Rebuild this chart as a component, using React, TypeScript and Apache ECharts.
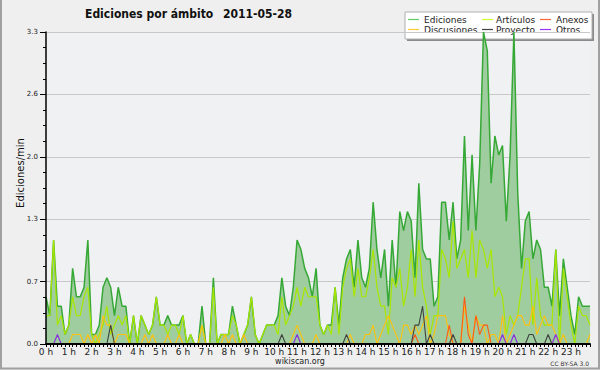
import React, { useEffect, useRef } from "react";
import * as echarts from "echarts";

const hourLabels = [
  "0 h", "1 h", "2 h", "3 h", "4 h", "5 h", "6 h", "7 h", "8 h", "9 h", "10 h", "11 h",
  "12 h", "13 h", "14 h", "15 h", "16 h", "17 h", "18 h", "19 h", "20 h", "21 h", "22 h", "23 h",
];

// 10-minute bins, edits per minute
const ediciones = [
  0.5, 0.3, 1.1, 0.4, 0.4, 0.1, 0.2, 0.8, 0.5, 0.5, 0.6, 1.1,
  0.1, 0.1, 0.2, 0.6, 0.7, 0.6, 0.3, 0.6, 0.4, 0.4, 0, 0.3,
  0, 0.3, 0.2, 0.1, 0.2, 0.5, 0.2, 0.2, 0.3, 0.2, 0.2, 0.2,
  0.3, 0, 0.1, 0, 0, 0.4, 0, 0, 0.7, 0, 0.1, 0.1,
  0.1, 0.4, 0.2, 0, 0.1, 0.2, 0.5, 0.1, 0, 0.1, 0.2, 0.2,
  0.2, 0.3, 0.7, 0.4, 0.3, 0.6, 1.1, 1.0, 0.8, 0.7, 0.5, 0.8,
  0.2, 0.1, 0.2, 0.2, 0.6, 0.2, 0.7, 0.9, 1.0, 0.6, 1.1, 0.7,
  0.6, 0.8, 1.5, 1.0, 0.7, 1.0, 0.4, 1.1, 0.6, 1.4, 1.2, 1.4,
  1.3, 0.7, 1.7, 1.0, 0.9, 0.9, 0.4, 0.5, 1.5, 1.5, 1.1, 1.5,
  0.9, 1.1, 2.2, 1.2, 2.0, 1.2, 1.9, 3.3, 3.1, 1.7, 2.2, 2.0,
  2.1, 1.3, 2.0, 3.3, 1.6, 0.8, 1.3, 1.4, 0.9, 1.1, 1.0, 0.6,
  0.6, 0.4, 1.0, 0.3, 0.9, 0.6, 0.3, 0.1, 0.5, 0.4, 0.4, 0.4,
];

const articulos = [
  0.3, 0.3, 1.1, 0.2, 0.3, 0.1, 0.2, 0.5, 0.3, 0.3, 0.5, 0.6,
  0.1, 0, 0.1, 0.2, 0.4, 0.1, 0.2, 0.3, 0.2, 0.3, 0, 0.3,
  0, 0.3, 0.2, 0.1, 0.2, 0.5, 0.2, 0.2, 0.1, 0.2, 0.2, 0.1,
  0.3, 0, 0.1, 0, 0, 0.2, 0, 0, 0.6, 0, 0.1, 0.1,
  0.1, 0.3, 0.2, 0, 0.1, 0.2, 0.5, 0.1, 0, 0.1, 0.2, 0.2,
  0.2, 0.1, 0.5, 0.2, 0.3, 0.4, 0.6, 0.4, 0.6, 0.5, 0.5, 0.5,
  0.2, 0.1, 0.2, 0.1, 0.6, 0.1, 0.6, 0.8, 0.9, 0.5, 0.8, 0.5,
  0.5, 0.7, 1.0, 0.6, 0.4, 0.4, 0.1, 0.7, 0.6, 0.8, 0.4, 0.6,
  1.0, 0.5, 1.1, 0.6, 0.4, 0.1, 0.3, 0.3, 1.0, 0.9, 0.7, 1.3,
  0.8, 0.9, 1.0, 0.7, 1.2, 0.7, 1.1, 1.0, 0.8, 1.0, 0.5, 0.6,
  0.5, 0.1, 0.3, 0.2, 0.3, 0.6, 0.9, 0.9, 0.2, 0.7, 0.3, 0.2,
  0.2, 0.2, 1.0, 0, 0.8, 0.5, 0.2, 0, 0.4, 0.3, 0.3, 0.2,
];

const discusiones = [
  0, 0, 0, 0, 0, 0, 0, 0.1, 0.1, 0.1, 0, 0.1,
  0, 0.1, 0, 0.3, 0.2, 0.2, 0, 0.1, 0.1, 0.1, 0, 0,
  0, 0, 0.1, 0, 0.1, 0, 0, 0, 0.1, 0, 0, 0.1,
  0, 0, 0, 0, 0, 0.2, 0, 0, 0, 0, 0, 0.1,
  0, 0.1, 0, 0, 0.1, 0, 0, 0, 0, 0, 0, 0,
  0, 0, 0, 0, 0, 0.1, 0.2, 0.1, 0, 0, 0, 0.1,
  0, 0, 0, 0, 0, 0, 0, 0, 0.1, 0, 0, 0,
  0.1, 0.1, 0.2, 0, 0.1, 0.2, 0.3, 0.2, 0.1, 0, 0.2, 0.2,
  0.1, 0.2, 0.1, 0.2, 0.3, 0, 0.1, 0.3, 0.3, 0.3, 0.1, 0,
  0, 0, 0.4, 0.2, 0, 0.3, 0.2, 0.2, 0, 0.1, 0.1, 0,
  0.3, 0, 0.1, 0.2, 0.3, 0.3, 0.2, 0.2, 0.4, 0.1, 0.2, 0.3,
  0.2, 0.2, 0.1, 0, 0.1, 0, 0, 0, 0, 0, 0, 0.1,
];

const anexos = [
  0, 0, 0, 0, 0, 0, 0, 0, 0, 0, 0, 0,
  0, 0, 0, 0, 0, 0, 0, 0, 0, 0, 0, 0,
  0, 0, 0, 0, 0, 0, 0, 0, 0, 0, 0, 0,
  0, 0, 0, 0, 0, 0, 0, 0, 0, 0, 0, 0,
  0, 0, 0, 0, 0, 0, 0, 0, 0, 0, 0, 0,
  0, 0, 0, 0, 0, 0, 0, 0, 0, 0, 0, 0,
  0, 0, 0, 0, 0, 0, 0, 0, 0, 0, 0, 0,
  0, 0, 0, 0, 0, 0, 0, 0, 0, 0, 0, 0,
  0, 0.1, 0, 0, 0, 0, 0, 0, 0, 0, 0.2, 0,
  0, 0, 0.5, 0.1, 0, 0.3, 0.1, 0.2, 0.2, 0, 0, 0,
  0, 0, 0, 0, 0, 0, 0, 0, 0, 0, 0, 0,
  0, 0, 0, 0, 0, 0, 0, 0, 0, 0, 0, 0,
];

const proyecto = [
  0, 0, 0, 0, 0, 0, 0, 0, 0, 0, 0, 0,
  0, 0, 0, 0, 0, 0.2, 0, 0, 0, 0, 0, 0,
  0, 0, 0, 0, 0, 0, 0, 0, 0, 0, 0, 0,
  0, 0, 0, 0, 0, 0, 0, 0, 0, 0, 0, 0,
  0, 0, 0, 0, 0, 0, 0, 0, 0, 0, 0, 0,
  0, 0, 0.1, 0, 0, 0, 0, 0, 0, 0, 0, 0,
  0, 0, 0, 0, 0, 0, 0, 0.1, 0, 0, 0, 0,
  0, 0, 0, 0, 0, 0, 0, 0, 0, 0, 0, 0,
  0, 0.2, 0.2, 0.4, 0, 0.1, 0, 0, 0, 0, 0, 0.1,
  0, 0, 0, 0, 0, 0, 0, 0, 0, 0, 0, 0,
  0, 0, 0, 0, 0, 0, 0, 0.1, 0.1, 0, 0, 0,
  0.1, 0, 0, 0, 0, 0, 0, 0, 0, 0, 0, 0,
];

const otros = [
  0, 0, 0, 0.1, 0, 0, 0, 0, 0, 0, 0, 0,
  0, 0, 0, 0, 0, 0, 0, 0, 0, 0, 0, 0,
  0, 0, 0, 0, 0, 0, 0, 0, 0, 0, 0, 0,
  0, 0, 0, 0, 0, 0, 0, 0, 0, 0, 0, 0,
  0, 0, 0, 0, 0, 0, 0, 0, 0, 0, 0, 0,
  0, 0, 0, 0, 0, 0, 0.1, 0, 0, 0, 0, 0,
  0, 0, 0, 0, 0, 0, 0, 0, 0, 0, 0, 0,
  0, 0, 0, 0, 0, 0, 0, 0, 0, 0, 0, 0,
  0, 0, 0, 0, 0, 0, 0, 0, 0, 0, 0, 0,
  0, 0, 0, 0, 0, 0, 0, 0, 0, 0, 0, 0,
  0.1, 0, 0, 0.1, 0, 0, 0, 0, 0, 0, 0, 0,
  0, 0, 0.1, 0, 0, 0, 0, 0, 0, 0, 0, 0,
];

const legendItems = [
  { name: "Ediciones", color: "#66cc66", col: 0, row: 0 },
  { name: "Artículos", color: "#ccff33", col: 1, row: 0 },
  { name: "Anexos", color: "#ff6633", col: 2, row: 0 },
  { name: "Discusiones", color: "#ffcc33", col: 0, row: 1 },
  { name: "Proyecto", color: "#444444", col: 1, row: 1 },
  { name: "Otros", color: "#9933ff", col: 2, row: 1 },
];

const FONT = "'DejaVu Sans', sans-serif";
const TITLE_FONT = "'DejaVu Sans Condensed', 'DejaVu Sans', sans-serif";

export default function App() {
  const ref = useRef<HTMLDivElement>(null);

  useEffect(() => {
    if (!ref.current) return;
    const chart = echarts.init(ref.current, null, { renderer: "svg" });

    const categories: string[] = [];
    hourLabels.forEach((_, h) => {
      for (let m = 0; m < 6; m++) categories.push(`${h}:${m}0`);
    });

    const lineSeries = (name: string, data: number[], color: string, width: number, z: number, area?: string) => ({
      type: "line",
      name,
      data,
      symbol: "none",
      showSymbol: false,
      silent: true,
      z,
      yAxisIndex: 0,
      lineStyle: { color, width },
      itemStyle: { color },
      areaStyle: area ? { color: area, opacity: 1 } : undefined,
    });

    const legendColX = [408, 482, 540];
    const legendTextX = [424, 496, 556];
    const legendRowY = [19.5, 29.5];
    const legendChildren: any[] = [
      { type: "rect", shape: { x: 407, y: 14, width: 187, height: 27 }, style: { fill: "#8a8a8a" } },
      { type: "rect", shape: { x: 405, y: 12, width: 187, height: 27 }, style: { fill: "#ffffff", stroke: "#b0b0b0", lineWidth: 1 } },
    ];
    legendItems.forEach((it) => {
      const y = legendRowY[it.row];
      legendChildren.push({
        type: "line",
        shape: { x1: legendColX[it.col], y1: y, x2: legendColX[it.col] + 11, y2: y },
        style: { stroke: it.color, lineWidth: 1.2 },
      });
      legendChildren.push({
        type: "text",
        x: legendTextX[it.col],
        y,
        style: { text: it.name, fill: "#222", fontSize: 9, fontFamily: FONT, align: "left", verticalAlign: "middle" },
      });
    });

    chart.setOption({
      animation: false,
      backgroundColor: "#efefef",
      grid: {
        left: 46,
        right: 10,
        top: 32,
        bottom: 26,
        show: true,
        backgroundColor: "#f0f1f3",
        borderWidth: 0,
        containLabel: false,
      },
      xAxis: {
        type: "category",
        data: categories,
        boundaryGap: false,
        z: 10,
        axisLine: { show: true, lineStyle: { color: "#000", width: 2 } },
        axisTick: { show: true, interval: 0, length: 3, lineStyle: { color: "#000", width: 1 } },
        axisLabel: {
          interval: (i: number) => i % 6 === 0,
          formatter: (_v: string, i: number) => (i % 6 === 0 ? hourLabels[i / 6] : ""),
          fontSize: 9,
          fontFamily: FONT,
          color: "#222",
          margin: 3,
        },
        splitLine: { show: false },
      },
      yAxis: [
        {
          type: "value",
          min: 0,
          max: 3.3,
          interval: 0.66,
          axisLine: { show: false },
          axisTick: { show: false },
          axisLabel: { show: false },
          splitLine: { show: true, lineStyle: { color: "#c8c8c8", width: 1 } },
        },
        {
          type: "value",
          min: 0,
          max: 3.3,
          interval: 0.66,
          position: "left",
          z: 10,
          axisLine: { show: true, lineStyle: { color: "#000", width: 1.5 } },
          axisTick: { show: true, length: 6, lineStyle: { color: "#000", width: 1 } },
          minorTick: { show: true, splitNumber: 4, length: 3, lineStyle: { color: "#000", width: 1 } },
          axisLabel: {
            formatter: (v: number) => v.toFixed(1),
            fontSize: 7,
            fontFamily: FONT,
            color: "#222",
            margin: 8,
          },
          splitLine: { show: false },
        },
      ],
      series: [
        lineSeries("Ediciones", ediciones, "#36a836", 1.5, 2, "#9fcd9f"),
        lineSeries("Artículos", articulos, "#a8e600", 1.2, 3),
        lineSeries("Discusiones", discusiones, "#ffc20e", 1.1, 4),
        lineSeries("Anexos", anexos, "#ff5a14", 1.1, 5),
        lineSeries("Proyecto", proyecto, "#404040", 1.1, 6),
        lineSeries("Otros", otros, "#8a2be2", 1.1, 7),
      ],
      graphic: [
        {
          type: "polyline",
          shape: { points: [[1, 0], [1, 368.5], [599, 368.5], [599, 0]] },
          style: { stroke: "#a0a0a0", lineWidth: 2, fill: null },
          z: 100,
        },
        {
          type: "text",
          x: 85,
          y: 14,
          style: { text: "Ediciones por ámbito", fill: "#111", fontSize: 12, fontWeight: "bold", fontFamily: TITLE_FONT, align: "left", verticalAlign: "middle" },
        },
        {
          type: "text",
          x: 292,
          y: 14,
          style: { text: "2011-05-28", fill: "#111", fontSize: 12, fontWeight: "bold", fontFamily: TITLE_FONT, align: "right", verticalAlign: "middle" },
        },
        {
          type: "text",
          x: 20,
          y: 173,
          rotation: Math.PI / 2,
          style: { text: "Ediciones/min", fill: "#111", fontSize: 10, fontFamily: FONT, align: "center", verticalAlign: "middle" },
        },
        {
          type: "text",
          x: 300,
          y: 361,
          style: { text: "wikiscan.org", fill: "#222", fontSize: 8, fontFamily: FONT, align: "center", verticalAlign: "middle" },
        },
        {
          type: "text",
          x: 589,
          y: 363,
          style: { text: "CC BY-SA 3.0", fill: "#333", fontSize: 6, fontFamily: FONT, align: "right", verticalAlign: "middle" },
        },
        { type: "group", z: 50, children: legendChildren },
      ],
    });

    return () => chart.dispose();
  }, []);

  return <div ref={ref} style={{ position: "fixed", left: 0, top: 0, width: 600, height: 370 }} />;
}
